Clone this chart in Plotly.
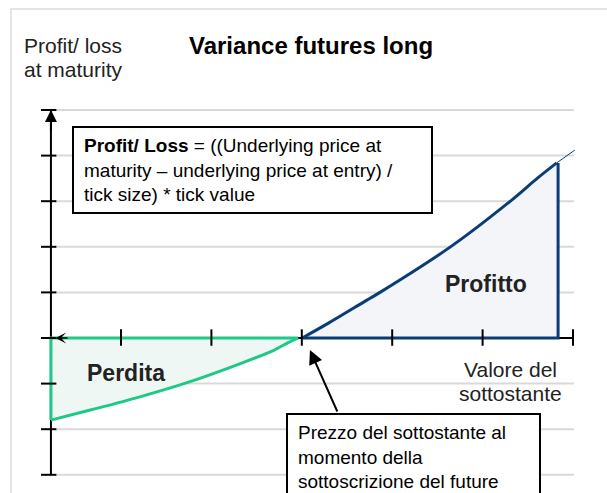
import plotly.graph_objects as go

# ---------------- data ----------------
# x: underlying value (tick units), y: profit/loss (grid units)
tick_x = [1, 2, 3, 4, 5, 6]
tick_y = [-3, -2, -1, 0, 1, 2, 3, 4, 5]
grid_y = [-3, -2, -1, 1, 2, 3, 4, 5]

loss_x = [0.225, 0.66, 1.21, 1.73, 2.32, 2.69, 2.85, 2.96]
loss_y = [-1.80, -1.58, -1.29, -0.98, -0.56, -0.27, -0.10, 0.0]

gain_x = [3.005, 3.29, 3.72, 3.865, 4.66, 5.325, 5.61, 5.82]
gain_y = [0.0, 0.32, 0.83, 1.0, 2.02, 3.03, 3.51, 3.84]

ext_x = [5.82, 6.02]
ext_y = [3.84, 4.12]

axis_x = 0.225       # where the vertical axis sits
strike_x = 3.0       # entry price

# ---------------- styling ----------------
W, H = 607, 493
FONT = "Liberation Sans, Arial, sans-serif"
GREEN = "#1ec985"
BLUE = "#0a3c78"
GRID = "#d9d9d9"
TXT = "#222222"

def px(x):
    return x / W

def py(y):
    return 1 - y / H

fig = go.Figure()

# loss area
fig.add_trace(go.Scatter(x=loss_x, y=loss_y, mode="lines",
                         line=dict(color=GREEN, width=3, shape="spline"),
                         fill="tozeroy", fillcolor="#eef7f3", hoverinfo="skip"))
fig.add_trace(go.Scatter(x=[loss_x[0], loss_x[0], loss_x[-1]], y=[loss_y[0], 0, 0],
                         mode="lines", line=dict(color=GREEN, width=3), hoverinfo="skip"))
# profit area
fig.add_trace(go.Scatter(x=gain_x, y=gain_y, mode="lines",
                         line=dict(color=BLUE, width=3, shape="spline"),
                         fill="tozeroy", fillcolor="#f3f5f9", hoverinfo="skip"))
fig.add_trace(go.Scatter(x=[gain_x[0], gain_x[-1] + 0.015, gain_x[-1] + 0.015],
                         y=[0, 0, gain_y[-1]],
                         mode="lines", line=dict(color=BLUE, width=3), hoverinfo="skip"))
fig.add_trace(go.Scatter(x=ext_x, y=ext_y, mode="lines",
                         line=dict(color=BLUE, width=1), hoverinfo="skip"))

shapes = []
# outer light frame
shapes.append(dict(type="rect", xref="paper", yref="paper",
                   x0=px(11), x1=1.05, y0=-0.05, y1=py(9),
                   line=dict(color="#dcdcdc", width=1.5), layer="below"))
# gridlines
for g in grid_y:
    shapes.append(dict(type="line", xref="x", yref="y", x0=0.28, x1=6.01, y0=g, y1=g,
                       line=dict(color=GRID, width=2), layer="below"))
# axes lines
shapes.append(dict(type="line", xref="x", yref="y", x0=axis_x, x1=axis_x,
                   y0=tick_y[0], y1=tick_y[-1], line=dict(color="black", width=2), layer="below"))
shapes.append(dict(type="line", xref="x", yref="y", x0=axis_x, x1=tick_x[-1],
                   y0=0, y1=0, line=dict(color="black", width=2), layer="below"))
# y ticks
for t in tick_y:
    shapes.append(dict(type="line", xref="x", yref="y", x0=0.115, x1=0.285, y0=t, y1=t,
                       line=dict(color="black", width=2), layer="above"))
# x ticks
for t in tick_x:
    shapes.append(dict(type="line", xref="x", yref="y", x0=t, x1=t, y0=-0.17, y1=0.19,
                       line=dict(color="black", width=2), layer="above"))
# formula box
shapes.append(dict(type="rect", xref="paper", yref="paper",
                   x0=px(73), x1=px(432), y0=py(213), y1=py(127),
                   line=dict(color="black", width=2), fillcolor="white", layer="above"))
# strike-price box
shapes.append(dict(type="rect", xref="paper", yref="paper",
                   x0=px(287), x1=px(540), y0=py(510), y1=py(414),
                   line=dict(color="black", width=2), fillcolor="white", layer="above"))

ann = []

def text(x, y, s, size, bold=False, anchor="left", color=TXT):
    ann.append(dict(xref="paper", yref="paper", x=px(x), y=py(y), text=(f"<b>{s}</b>" if bold else s),
                    showarrow=False, xanchor=anchor, yanchor="middle",
                    font=dict(family=FONT, size=size, color=color)))

text(310.5, 45, "Variance futures long", 24, bold=True, anchor="center", color="black")
text(22, 45, "Profit/ loss", 21)
text(22, 70, "at maturity", 21)
text(82, 145, "<b>Profit/ Loss</b> = ((Underlying price at", 19, color="black")
text(82, 170, "maturity – underlying price at entry) /", 19, color="black")
text(82, 194, "tick size) * tick value", 19, color="black")
text(126.3, 373, "Perdita", 23, bold=True, anchor="center")
text(486.5, 284, "Profitto", 23, bold=True, anchor="center")
text(510.5, 369, "Valore del", 21, anchor="center")
text(510.5, 393, "sottostante", 21, anchor="center")
text(296, 432, "Prezzo del sottostante al", 19, color="black")
text(296, 457, "momento della", 19, color="black")
text(296, 481, "sottoscrizione del future", 19, color="black")

# arrowheads
ann.append(dict(xref="x", yref="y", axref="x", ayref="y", x=axis_x, y=tick_y[-1],
                ax=axis_x, ay=tick_y[-1] - 0.5, text="", showarrow=True,
                arrowhead=2, arrowsize=1.2, arrowwidth=2, arrowcolor="black"))
ann.append(dict(xref="x", yref="y", axref="x", ayref="y", x=axis_x + 0.05, y=0,
                ax=axis_x + 0.2, ay=0, text="", showarrow=True,
                arrowhead=3, arrowsize=1.2, arrowwidth=1.5, arrowcolor="black"))
ann.append(dict(xref="x", yref="y", axref="x", ayref="y", x=strike_x + 0.09, y=-0.263,
                ax=strike_x + 0.40, ay=-1.645, text="", showarrow=True,
                arrowhead=2, arrowsize=1.4, arrowwidth=2, arrowcolor="black"))

fig.update_layout(
    width=W, height=H, margin=dict(l=0, r=0, t=0, b=0),
    paper_bgcolor="white", plot_bgcolor="white", showlegend=False,
    xaxis=dict(visible=False, range=[-30.6 / 90.4, (W - 30.6) / 90.4], fixedrange=True),
    yaxis=dict(visible=False, range=[-(H - 338) / 45.6, 338 / 45.6], fixedrange=True),
    shapes=shapes, annotations=ann,
)

fig.write_html("out.html", config={"displayModeBar": False, "staticPlot": True},
               post_script="document.body.style.margin='0px';document.body.style.overflow='hidden';")
